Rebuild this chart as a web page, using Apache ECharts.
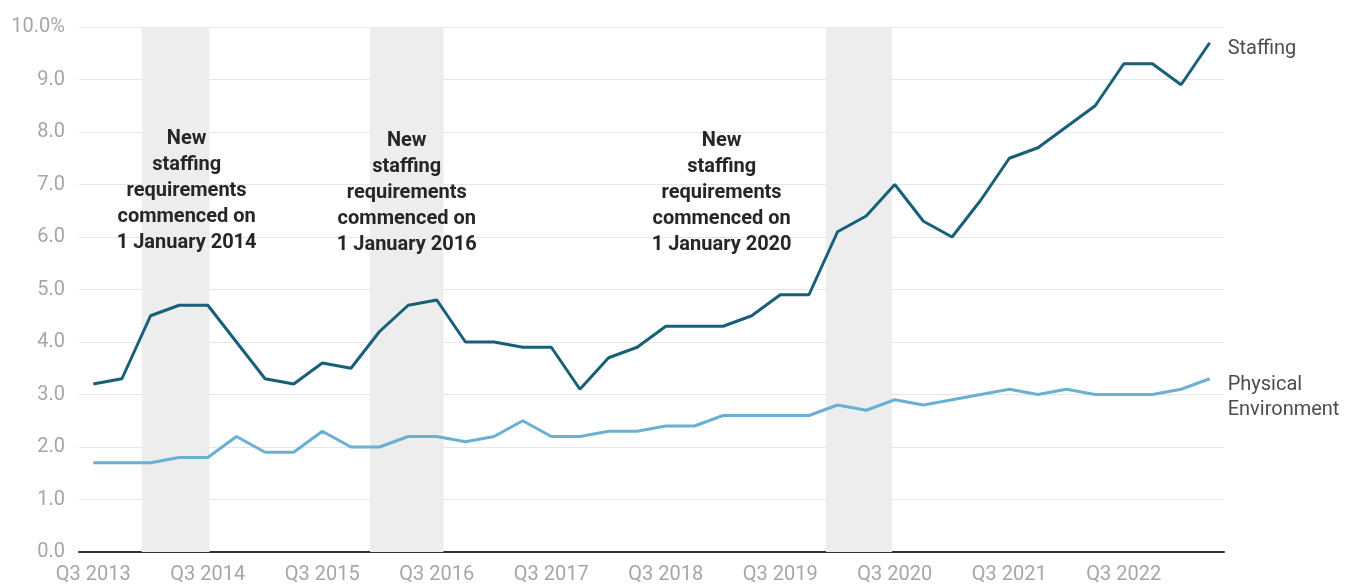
<!DOCTYPE html>
<html>
<head>
<meta charset="utf-8">
<title>Staffing and Physical Environment</title>
<script src="https://cdn.jsdelivr.net/npm/echarts@6/dist/echarts.min.js"></script>
<style>
  html, body { margin: 0; padding: 0; background: #ffffff; }
  #chart { width: 1349px; height: 585px; }
</style>
</head>
<body>
<div id="chart"></div>
<script>
// Quarterly periods, Q3 2013 to Q2 2023
const quarters = [
  'Q3 2013','Q4 2013','Q1 2014','Q2 2014','Q3 2014','Q4 2014','Q1 2015','Q2 2015',
  'Q3 2015','Q4 2015','Q1 2016','Q2 2016','Q3 2016','Q4 2016','Q1 2017','Q2 2017',
  'Q3 2017','Q4 2017','Q1 2018','Q2 2018','Q3 2018','Q4 2018','Q1 2019','Q2 2019',
  'Q3 2019','Q4 2019','Q1 2020','Q2 2020','Q3 2020','Q4 2020','Q1 2021','Q2 2021',
  'Q3 2021','Q4 2021','Q1 2022','Q2 2022','Q3 2022','Q4 2022','Q1 2023','Q2 2023'
];

// Percentages per quarter
const staffing = [
  3.2, 3.3, 4.5, 4.7, 4.7, 4.0, 3.3, 3.2, 3.6, 3.5,
  4.2, 4.7, 4.8, 4.0, 4.0, 3.9, 3.9, 3.1, 3.7, 3.9,
  4.3, 4.3, 4.3, 4.5, 4.9, 4.9, 6.1, 6.4, 7.0, 6.3,
  6.0, 6.7, 7.5, 7.7, 8.1, 8.5, 9.3, 9.3, 8.9, 9.7
];
const physicalEnvironment = [
  1.7, 1.7, 1.7, 1.8, 1.8, 2.2, 1.9, 1.9, 2.3, 2.0,
  2.0, 2.2, 2.2, 2.1, 2.2, 2.5, 2.2, 2.2, 2.3, 2.3,
  2.4, 2.4, 2.6, 2.6, 2.6, 2.6, 2.8, 2.7, 2.9, 2.8,
  2.9, 3.0, 3.1, 3.0, 3.1, 3.0, 3.0, 3.0, 3.1, 3.3
];

// Y axis ticks
const yTicks = [0, 1, 2, 3, 4, 5, 6, 7, 8, 9, 10];

// Periods when new staffing requirements commenced, in quarter-index units
const requirementPeriods = [
  [1.69, 4.06],
  [9.67, 12.23],
  [25.6, 27.9]
];
const requirementNotes = [
  { text: 'New\nstaffing\nrequirements\ncommenced on\n1 January 2014', at: [3.26, 6.87] },
  { text: 'New\nstaffing\nrequirements\ncommenced on\n1 January 2016', at: [10.95, 6.83] },
  { text: 'New\nstaffing\nrequirements\ncommenced on\n1 January 2020', at: [21.95, 6.83] }
];

const chart = echarts.init(document.getElementById('chart'), null, { renderer: 'canvas' });

const axisFont = { fontFamily: 'Roboto', fontSize: 20, color: '#a6a6a6' };

chart.setOption({
  animation: false,
  backgroundColor: '#ffffff',
  grid: { left: 79, right: 125, top: 27, bottom: 33 },
  xAxis: [
    {
      type: 'category',
      data: quarters,
      boundaryGap: true,
      axisLine: { show: true, lineStyle: { color: '#333333', width: 2 } },
      axisTick: { show: false },
      axisLabel: Object.assign({ interval: 3, margin: 13 }, axisFont),
      splitLine: { show: false }
    },
    {
      type: 'value',
      min: -0.5,
      max: quarters.length - 0.5,
      show: false
    }
  ],
  yAxis: {
    type: 'value',
    min: yTicks[0],
    max: yTicks[yTicks.length - 1],
    interval: 1,
    axisLine: { show: false },
    axisTick: { show: false },
    axisLabel: Object.assign({
      margin: 14,
      formatter: v => (v === yTicks[yTicks.length - 1] ? v.toFixed(1) + '%' : v.toFixed(1))
    }, axisFont),
    splitLine: { show: true, lineStyle: { color: '#e6e6e6', width: 1 } }
  },
  series: [
    {
      name: 'periods',
      type: 'line',
      xAxisIndex: 1,
      data: [],
      z: 1,
      silent: true,
      markArea: {
        silent: true,
        itemStyle: { color: '#ededed' },
        data: requirementPeriods.map(p => [{ xAxis: p[0] }, { xAxis: p[1] }])
      },
      markPoint: {
        silent: true,
        symbol: 'circle',
        symbolSize: 0,
        label: {
          show: true,
          position: 'inside',
          color: '#262626',
          fontFamily: 'Roboto',
          fontSize: 20,
          fontWeight: 'bold',
          lineHeight: 26,
          align: 'center',
          verticalAlign: 'middle',
          formatter: p => p.name
        },
        data: requirementNotes.map(n => ({ name: n.text, coord: n.at }))
      }
    },
    {
      name: 'Staffing',
      type: 'line',
      data: staffing,
      symbol: 'none',
      z: 3,
      lineStyle: { color: '#18607a', width: 3 },
      itemStyle: { color: '#18607a' },
      endLabel: {
        show: true,
        formatter: '{a}',
        distance: 18,
        offset: [0, 6],
        color: '#4d4d4d',
        fontFamily: 'Roboto',
        fontSize: 20
      }
    },
    {
      name: 'Physical Environment',
      type: 'line',
      data: physicalEnvironment,
      symbol: 'none',
      z: 3,
      lineStyle: { color: '#6ab0d2', width: 3 },
      itemStyle: { color: '#6ab0d2' },
      endLabel: {
        show: true,
        formatter: 'Physical\nEnvironment',
        distance: 18,
        offset: [0, 19],
        color: '#4d4d4d',
        fontFamily: 'Roboto',
        fontSize: 20,
        lineHeight: 25
      }
    }
  ]
});
</script>
</body>
</html>
